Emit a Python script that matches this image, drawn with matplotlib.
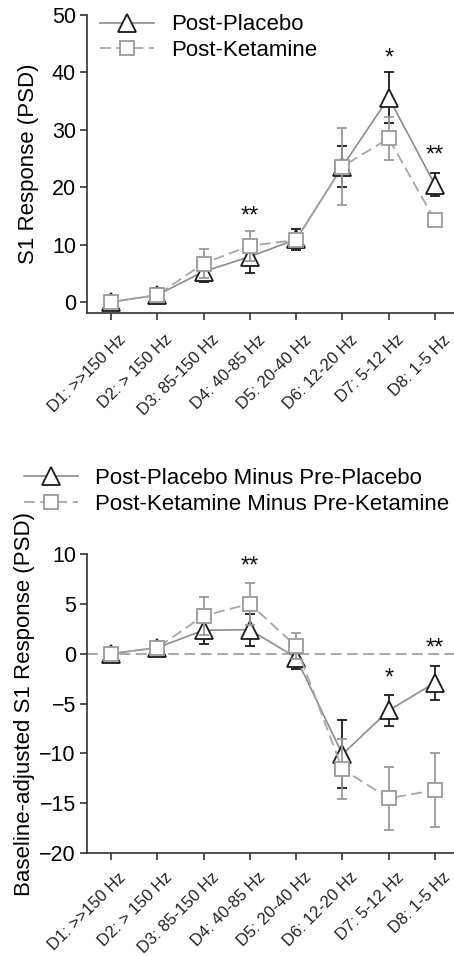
import matplotlib.pyplot as plt
import numpy as np
from matplotlib.transforms import ScaledTranslation, blended_transform_factory

plt.rcParams['font.family'] = ['Liberation Sans', 'DejaVu Sans']

# Frequency bands on the x axis
bands = ['D1: >>150 Hz', 'D2: > 150 Hz', 'D3: 85-150 Hz', 'D4: 40-85 Hz',
         'D5: 20-40 Hz', 'D6: 12-20 Hz', 'D7: 5-12 Hz', 'D8: 1-5 Hz']

# Top panel: raw S1 response
post_placebo = [0, 1.2, 5.3, 7.9, 10.9, 23.6, 35.6, 20.4]
post_placebo_err = [1.0, 1.2, 1.9, 2.9, 1.8, 3.6, 4.5, 2.0]
post_ketamine = [0, 1.2, 6.7, 9.8, 10.8, 23.6, 28.5, 14.2]
post_ketamine_err = [0.8, 1.0, 2.5, 2.6, 1.2, 6.7, 3.8, 0.9]

# Bottom panel: baseline-adjusted
diff_placebo = [0, 0.6, 2.35, 2.4, -0.4, -10.1, -5.7, -2.9]
diff_placebo_err = [0.5, 0.4, 1.4, 1.6, 1.1, 3.4, 1.6, 1.7]
diff_ketamine = [0, 0.6, 3.8, 5.0, 0.75, -11.6, -14.5, -13.7]
diff_ketamine_err = [0.4, 0.4, 1.9, 2.1, 1.3, 3.0, 3.15, 3.7]

# significance marks (band index, y, label)
top_stars = [(3, 14.9, '**'), (6, 42.4, '*'), (7, 25.6, '**')]
bottom_stars = [(3, 8.7, '**'), (6, -2.5, '*'), (7, 0.5, '**')]

x = np.arange(len(bands))

fig = plt.figure(figsize=(4.54, 9.56), dpi=100)
ax1 = fig.add_axes([0.1916, 0.6726, 0.8084, 0.3117])
ax2 = fig.add_axes([0.1916, 0.1077, 0.8084, 0.3128])

plac_line = '#8c8c8c'
plac_edge = '#1a1a1a'
ket_line = '#a6a6a6'
ket_edge = '#9a9a9a'


def draw(ax, yp, ep, yk, ek, labels):
    ax.errorbar(x, yp, yerr=ep, fmt='none', ecolor=plac_edge, elinewidth=1.3,
                capsize=3.5, capthick=1.3, zorder=2)
    ax.plot(x, yp, '-', color=plac_line, lw=1.2, marker='^', ms=12.5,
            mfc='white', mec=plac_edge, mew=1.3, label=labels[0], zorder=3)
    ax.errorbar(x, yk, yerr=ek, fmt='none', ecolor=ket_edge, elinewidth=1.3,
                capsize=3.5, capthick=1.3, zorder=4)
    ax.plot(x, yk, '--', color=ket_line, lw=1.3, dashes=(6, 3), marker='s', ms=9.5,
            mfc='white', mec=ket_edge, mew=1.3, label=labels[1], zorder=5)


draw(ax1, post_placebo, post_placebo_err, post_ketamine, post_ketamine_err,
     ['Post-Placebo', 'Post-Ketamine'])
draw(ax2, diff_placebo, diff_placebo_err, diff_ketamine, diff_ketamine_err,
     ['Post-Placebo Minus Pre-Placebo', 'Post-Ketamine Minus Pre-Ketamine'])

ax2.axhline(0, color='#a0a0a0', lw=1.3, ls='--', dashes=(6, 3), zorder=1)

for i, y, s in top_stars:
    ax1.text(x[i], y, s, ha='center', va='center', fontsize=17, color='#111')
for i, y, s in bottom_stars:
    ax2.text(x[i], y, s, ha='center', va='center', fontsize=17, color='#111')

ax1.set_ylim(-1.92, 50)
ax1.set_yticks([0, 10, 20, 30, 40, 50])
ax2.set_ylim(-20, 10)
ax2.set_yticks([-20, -15, -10, -5, 0, 5, 10])

ax1.set_ylabel('S1 Response (PSD)', fontsize=16, labelpad=9)
ax2.set_ylabel('Baseline-adjusted S1 Response (PSD)', fontsize=16, labelpad=3)

for ax, dy in ((ax1, -0.19), (ax2, -0.165)):
    ax.set_xlim(-0.518, 7.41)
    ax.set_xticks(x)
    ax.set_xticklabels([])
    # rotated band labels, shifted right of their ticks like the original
    trans = blended_transform_factory(ax.transData, ax.transAxes) + \
        ScaledTranslation(0.18, dy, fig.dpi_scale_trans)
    for xi, lab in zip(x, bands):
        ax.text(xi, 0, lab, transform=trans, rotation=45, ha='right', va='top',
                fontsize=12, color='#222222')
    ax.spines['top'].set_visible(False)
    ax.spines['right'].set_visible(False)
    for sp in ('left', 'bottom'):
        ax.spines[sp].set_color('#333333')
        ax.spines[sp].set_linewidth(1.2)
    ax.tick_params(axis='both', direction='out', length=5, width=1.2, color='#333333')
    ax.tick_params(axis='y', labelsize=15.5, pad=3)

ax1.legend(loc='upper left', bbox_to_anchor=(0.0, 1.047), frameon=False, fontsize=16,
           handlelength=2.4, handletextpad=0.8, labelspacing=0.2, borderaxespad=0.2)
ax2.legend(loc='lower left', bbox_to_anchor=(-0.195, 1.1), frameon=False, fontsize=16,
           handlelength=2.4, handletextpad=0.8, labelspacing=0.25, borderaxespad=0.0)

fig.savefig('out.png', dpi=100)
